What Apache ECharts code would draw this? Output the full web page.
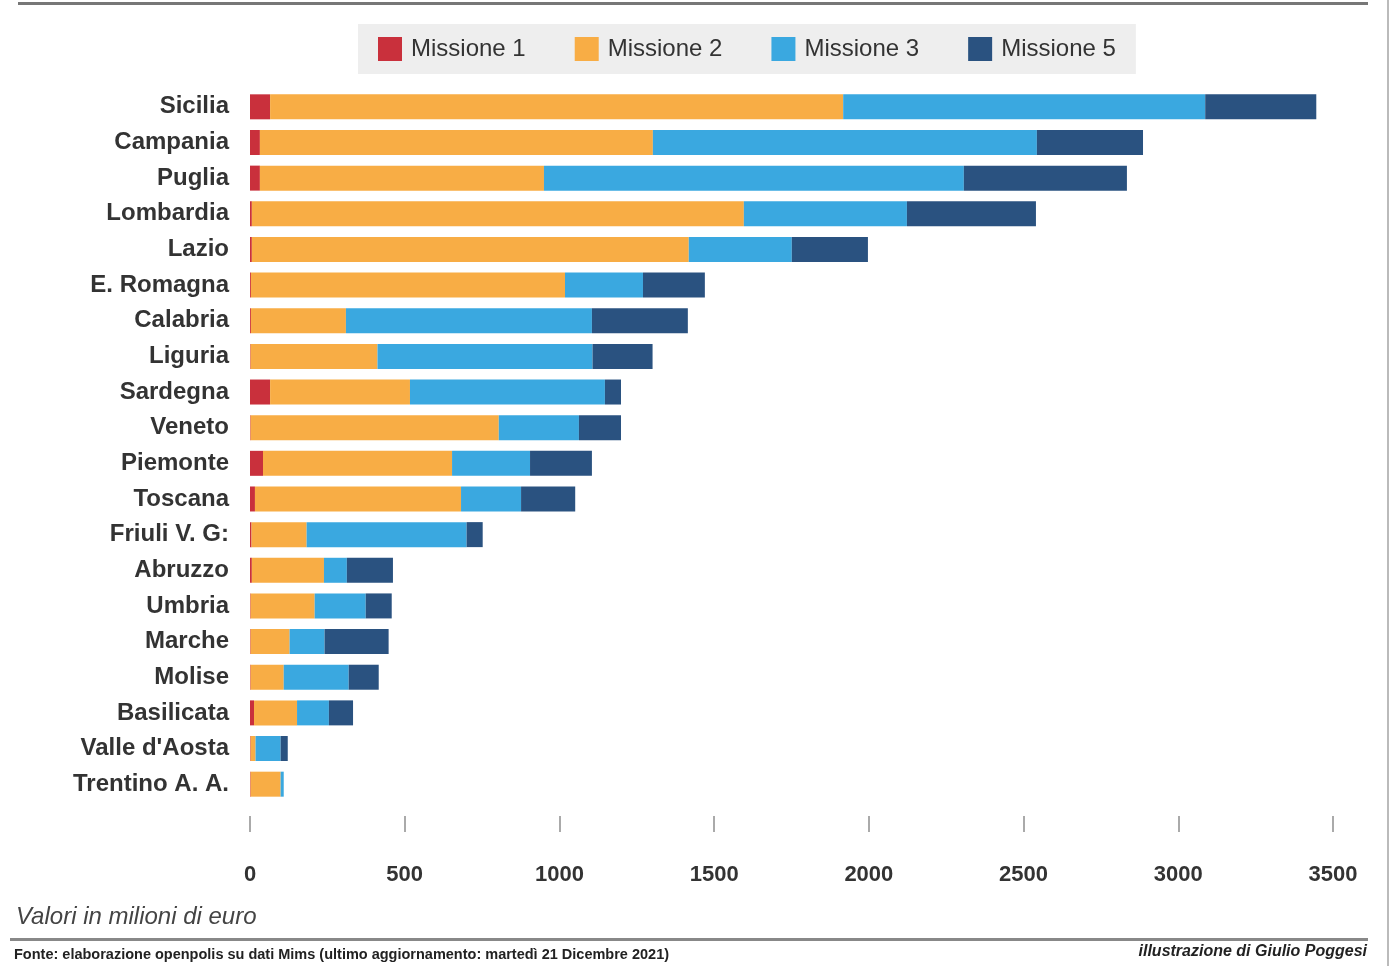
<!DOCTYPE html>
<html><head><meta charset="utf-8">
<script src="https://cdn.jsdelivr.net/npm/echarts@6/dist/echarts.min.js"></script>
<style>html,body{margin:0;padding:0;background:#fff}#c{width:1391px;height:966px}</style>
</head><body><div id="c"></div>
<script>
const regions = ["Sicilia","Campania","Puglia","Lombardia","Lazio","E. Romagna","Calabria","Liguria","Sardegna","Veneto","Piemonte","Toscana","Friuli V. G:","Abruzzo","Umbria","Marche","Molise","Basilicata","Valle d'Aosta","Trentino A. A."];
const missione1 = [65,32,32,6,6,3,3,2,65,2,42,16,5,6,2,2,2,13,2,2];
const missione2 = [1852,1270,918,1590,1412,1015,307,410,452,802,611,666,178,233,207,126,107,139,16,97];
const missione3 = [1170,1241,1357,527,333,252,795,695,630,259,252,194,517,74,165,113,210,103,81,10];
const missione5 = [359,343,527,417,246,200,310,194,52,136,200,175,52,149,84,207,97,78,23,0];
const xTicks = [0,500,1000,1500,2000,2500,3000,3500];
const seriesNames = ["Missione 1","Missione 2","Missione 3","Missione 5"];
const colors = ["#c9303c","#f8ad45","#3aa8e0","#2a5280"];
const values = [missione1, missione2, missione3, missione5];

const chart = echarts.init(document.getElementById('c'));
chart.setOption({
  animation:false,
  color: colors,
  legend: {
    top: 24, left: 358,
    backgroundColor: '#eeeeee',
    padding: [13, 20, 13, 20],
    itemWidth: 24, itemHeight: 24, itemGap: 49,
    icon: 'rect',
    textStyle: {fontFamily: 'Liberation Sans, Arial', fontSize: 24, color: '#333', padding:[0,0,0,4]},
    data: seriesNames
  },
  grid: {left: 250, right: 58, top: 89, bottom: 164, containLabel: false},
  xAxis: {
    type: 'value', min: 0, max: 3500, interval: 500,
    offset: 14,
    axisLine: {show: false},
    axisTick: {show: true, length: 16, lineStyle: {color: '#aaa', width: 2}},
    splitLine: {show: false},
    axisLabel: {margin: 48, fontFamily: 'Liberation Sans, Arial', fontWeight: 'bold', fontSize: 22, color: '#333',
      formatter: v => xTicks.includes(v) ? String(v) : ''}
  },
  yAxis: {
    type: 'category', data: regions, inverse: true,
    axisLine: {show: false}, axisTick: {show: false},
    axisLabel: {margin: 21, fontFamily: 'Liberation Sans, Arial', fontWeight: 'bold', fontSize: 24, color: '#333'}
  },
  series: values.map((d, i) => ({
    name: seriesNames[i], type: 'bar', stack: 'tot', data: d,
    barWidth: 25, itemStyle: {color: colors[i]}
  })),
  graphic: [
    {type:'rect', shape:{x:18, y:2, width:1350, height:3}, style:{fill:'#777'}},
    {type:'rect', shape:{x:1387, y:0, width:2, height:966}, style:{fill:'#bbb'}},
    {type:'text', left: 16, top: 905, style:{text:'Valori in milioni di euro', font:'italic 24px "Liberation Sans", Arial', fill:'#444'}},
    {type:'rect', shape:{x:10, y:938, width:1358, height:3}, style:{fill:'#888'}},
    {type:'text', left: 14, top: 947, style:{text:'Fonte: elaborazione openpolis su dati Mims (ultimo aggiornamento: martedì 21 Dicembre 2021)', font:'bold 14.5px "Liberation Sans", Arial', fill:'#222'}},
    {type:'text', right: 24, top: 944, style:{text:'illustrazione di Giulio Poggesi', font:'italic bold 16px "Liberation Sans", Arial', fill:'#222'}}
  ]
});
</script></body></html>
